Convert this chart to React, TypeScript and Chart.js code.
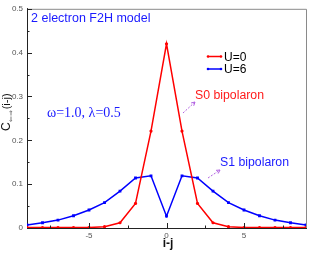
import React, { useEffect, useRef } from "react";
import { Chart, registerables } from "chart.js";

Chart.register(...registerables);

const sites = [-9, -8, -7, -6, -5, -4, -3, -2, -1, 0, 1, 2, 3, 4, 5, 6, 7, 8, 9];
const u0Values = [0.001, 0.001, 0.001, 0.001, 0.001, 0.003, 0.012, 0.056, 0.221, 0.42, 0.221, 0.056, 0.012, 0.003, 0.001, 0.001, 0.001, 0.001, 0.001];
const u6Values = [0.007, 0.012, 0.018, 0.028, 0.041, 0.058, 0.084, 0.114, 0.119, 0.027, 0.119, 0.114, 0.084, 0.058, 0.041, 0.028, 0.018, 0.012, 0.007];
const xTicks = [-7.5, -5, -2.5, 0, 2.5, 5, 7.5];
const xLabels = [-5, 0, 5];
const yTicks = [0, 0.05, 0.1, 0.15, 0.2, 0.25, 0.3, 0.35, 0.4, 0.45, 0.5];
const yLabels = ["0", "0.1", "0.2", "0.3", "0.4", "0.5"];
const seriesNames = ["U=0", "U=6"];

const SANS = '"Liberation Sans", Arial, sans-serif';
const SERIF = '"Liberation Serif", "Times New Roman", serif';

function arrow(ctx: CanvasRenderingContext2D, x1: number, y1: number, x2: number, y2: number) {
  ctx.save();
  ctx.strokeStyle = "#b060e0";
  ctx.lineWidth = 1;
  ctx.setLineDash([2, 1.5]);
  ctx.beginPath();
  ctx.moveTo(x1, y1);
  ctx.lineTo(x2, y2);
  ctx.stroke();
  ctx.setLineDash([]);
  const a = Math.atan2(y2 - y1, x2 - x1);
  const L = 4;
  ctx.beginPath();
  ctx.moveTo(x2 - L * Math.cos(a - 0.5), y2 - L * Math.sin(a - 0.5));
  ctx.lineTo(x2, y2);
  ctx.lineTo(x2 - L * Math.cos(a + 0.5), y2 - L * Math.sin(a + 0.5));
  ctx.stroke();
  ctx.restore();
}

const decorPlugin = {
  id: "decor",
  afterDraw(chart: any) {
    const ctx: CanvasRenderingContext2D = chart.ctx;
    const { left, right, top, bottom } = chart.chartArea;
    const xs = chart.scales.x;
    const ys = chart.scales.y;
    ctx.save();
    // frame top/right
    ctx.strokeStyle = "#8a8a8a";
    ctx.lineWidth = 1;
    ctx.beginPath();
    ctx.moveTo(left, top + 0.5);
    ctx.lineTo(right + 0.5, top + 0.5);
    ctx.lineTo(right + 0.5, bottom);
    ctx.stroke();
    // inward ticks
    ctx.strokeStyle = "#222";
    ctx.beginPath();
    yTicks.forEach((v, i) => {
      const y = Math.round(ys.getPixelForValue(v)) + 0.5;
      const len = i % 2 === 0 ? 5 : 2.5;
      ctx.moveTo(left, y);
      ctx.lineTo(left + len, y);
    });
    xTicks.forEach((v) => {
      const x = Math.round(xs.getPixelForValue(v)) + 0.5;
      const len = xLabels.includes(v) ? 5 : 2.5;
      ctx.moveTo(x, bottom);
      ctx.lineTo(x, bottom - len);
    });
    ctx.stroke();

    // title text
    ctx.fillStyle = "#1a1aff";
    ctx.font = `12.5px ${SANS}`;
    ctx.textAlign = "left";
    ctx.textBaseline = "alphabetic";
    ctx.fillText("2 electron F2H model", 31, 21.5);

    ctx.font = `14px ${SERIF}`;
    ctx.fillText("\u03c9=1.0, \u03bb=0.5", 47, 117);

    // annotations
    ctx.font = `12.3px ${SANS}`;
    ctx.fillStyle = "#ff1a1a";
    ctx.fillText("S0 bipolaron", 195, 98.5);
    ctx.fillStyle = "#1a1aff";
    ctx.fillText("S1 bipolaron", 220, 166);
    arrow(ctx, 183, 113, 195, 102);
    arrow(ctx, 208, 178, 220, 170);

    // legend
    const legendColors = ["#ff0000", "#0000ff"];
    const legendY = [56.5, 69];
    ctx.font = `12px ${SANS}`;
    seriesNames.forEach((name, i) => {
      ctx.strokeStyle = legendColors[i];
      ctx.fillStyle = legendColors[i];
      ctx.lineWidth = 1.5;
      ctx.beginPath();
      ctx.moveTo(208, legendY[i]);
      ctx.lineTo(221, legendY[i]);
      ctx.stroke();
      [208, 221].forEach((px) => {
        ctx.beginPath();
        ctx.arc(px, legendY[i], 1.3, 0, Math.PI * 2);
        ctx.fill();
      });
      ctx.fillStyle = "#000";
      ctx.fillText(name, 224, legendY[i] + 4.3);
    });

    // axis titles
    ctx.fillStyle = "#111";
    ctx.font = `bold 12px ${SANS}`;
    ctx.textAlign = "center";
    ctx.fillText("i-j", 168, 247);

    ctx.translate(9.5, 131);
    ctx.rotate(-Math.PI / 2);
    ctx.textAlign = "left";
    ctx.font = `12px ${SANS}`;
    ctx.fillText("C", 0, 0);
    const cw = ctx.measureText("C").width;
    ctx.font = `7px ${SANS}`;
    ctx.fillStyle = "#666";
    ctx.fillText("\u21d0\u21d2", cw + 0.5, 3);
    const sw = ctx.measureText("\u21d0\u21d2").width;
    ctx.fillStyle = "#111";
    ctx.font = `11px ${SANS}`;
    ctx.fillText("(i-j)", cw + sw + 1, 0);
    ctx.restore();
  },
};

export default function App() {
  const ref = useRef<HTMLCanvasElement | null>(null);
  useEffect(() => {
    document.body.style.margin = "0";
    const canvas = ref.current;
    if (!canvas) return;
    const chart = new Chart(canvas, {
      type: "line",
      data: {
        datasets: [
          {
            label: seriesNames[0],
            data: sites.map((x, i) => ({ x, y: u0Values[i] })),
            borderColor: "#ff0000",
            backgroundColor: "#ff0000",
            borderWidth: 1.5,
            pointStyle: "circle",
            pointRadius: 1.6,
            pointBorderWidth: 0,
            tension: 0,
          },
          {
            label: seriesNames[1],
            data: sites.map((x, i) => ({ x, y: u6Values[i] })),
            borderColor: "#0000ff",
            backgroundColor: "#0000ff",
            borderWidth: 1.5,
            pointStyle: "rect",
            pointRadius: 2,
            pointBorderWidth: 0,
            tension: 0,
          },
        ],
      },
      options: {
        animation: false,
        responsive: false,
        maintainAspectRatio: false,
        devicePixelRatio: 1,
        layout: { padding: { top: 3, right: 2, left: 0, bottom: 0 } },
        plugins: { legend: { display: false }, tooltip: { enabled: false } },
        scales: {
          x: {
            type: "linear",
            min: -9,
            max: 9,
            afterBuildTicks: (s: any) => {
              s.ticks = xTicks.map((v) => ({ value: v }));
            },
            afterFit: (s: any) => {
              s.height = 25;
            },
            ticks: {
              autoSkip: false,
              maxRotation: 0,
              padding: 3,
              color: "#555",
              font: { family: SANS, size: 8 },
              callback: (v: any) => (xLabels.includes(Number(v)) ? String(v) : ""),
            },
            grid: { drawOnChartArea: false, drawTicks: false },
            border: { color: "#222", width: 1 },
          },
          y: {
            type: "linear",
            min: 0,
            max: 0.5,
            afterBuildTicks: (s: any) => {
              s.ticks = yTicks.map((v) => ({ value: v }));
            },
            afterFit: (s: any) => {
              s.width = 27;
            },
            ticks: {
              autoSkip: false,
              padding: 4,
              color: "#555",
              font: { family: SANS, size: 8 },
              callback: (v: any, i: number) => (i % 2 === 0 ? yLabels[i / 2] : ""),
            },
            grid: { drawOnChartArea: false, drawTicks: false },
            border: { color: "#222", width: 1 },
          },
        },
      },
      plugins: [decorPlugin],
    } as any);
    return () => chart.destroy();
  }, []);
  return (
    <div style={{ position: "absolute", left: 0, top: 0, width: 310, height: 253 }}>
      <canvas ref={ref} width={310} height={253} style={{ width: 310, height: 253, display: "block" }} />
    </div>
  );
}
